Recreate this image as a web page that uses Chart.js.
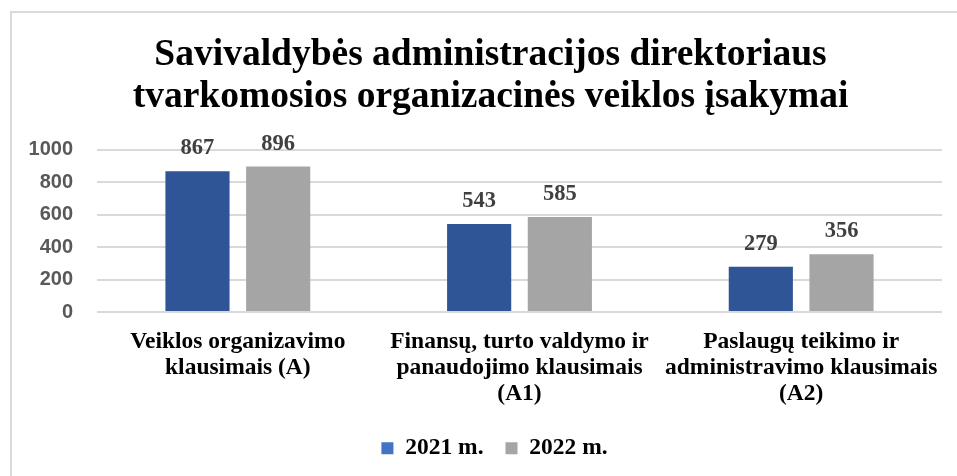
<!DOCTYPE html>
<html>
<head>
<meta charset="utf-8">
<script src="https://cdn.jsdelivr.net/npm/chart.js@4"></script>
<style>
  body { margin: 0; background: #fff; }
  #frame { position: absolute; left: 10px; top: 11px; width: 960px; height: 480px; border: 2px solid #d9d9d9; }
  #box { position: absolute; left: 0; top: 0; width: 957px; height: 476px; }
</style>
</head>
<body>
<div id="frame"></div>
<div id="box"><canvas id="myChart"></canvas></div>
<script>
const categories = [
  ["Veiklos organizavimo", "klausimais (A)"],
  ["Finansų, turto valdymo ir", "panaudojimo klausimais", "(A1)"],
  ["Paslaugų teikimo ir", "administravimo klausimais", "(A2)"]
];
const seriesNames = ["2021 m.", "2022 m."];
const values2021 = [867, 543, 279];
const values2022 = [896, 585, 356];
const yTicks = [0, 200, 400, 600, 800, 1000];

const serif = "'Liberation Serif', 'Times New Roman', serif";
const sans = "'Liberation Sans', Arial, sans-serif";

// number above each bar
const valueLabels = {
  id: "valueLabels",
  afterDatasetsDraw(chart) {
    const ctx = chart.ctx;
    ctx.save();
    ctx.font = "bold 22.5px " + serif;
    ctx.fillStyle = "#404040";
    ctx.textAlign = "center";
    ctx.textBaseline = "alphabetic";
    chart.data.datasets.forEach((ds, i) => {
      chart.getDatasetMeta(i).data.forEach((bar, j) => {
        ctx.fillText(ds.data[j], bar.x, bar.y - 17);
      });
    });
    ctx.restore();
  }
};

const legendColors = ["#4472c4", "#a5a5a5"];

// nudge a layout box sideways when it is drawn
function shiftBox(chart, box, dx) {
  const draw = box.draw.bind(box);
  box.draw = function (area) {
    chart.ctx.save();
    chart.ctx.translate(dx, 0);
    draw(area);
    chart.ctx.restore();
  };
}

function initChart() {
  const ctx = document.getElementById("myChart");
  const chart = new Chart(ctx, {
    type: "bar",
    data: {
      labels: categories,
      datasets: [
        { label: seriesNames[0], data: values2021, backgroundColor: "#2f5597" },
        { label: seriesNames[1], data: values2022, backgroundColor: "#a5a5a5" }
      ]
    },
    options: {
      responsive: true,
      maintainAspectRatio: false,
      animation: false,
      categoryPercentage: 0.573,
      barPercentage: 0.795,
      layout: { padding: { left: 27, right: 15, top: 34, bottom: 6 } },
      plugins: {
        title: {
          display: true,
          text: ["Savivaldybės administracijos direktoriaus", "tvarkomosios organizacinės veiklos įsakymai"],
          font: { family: serif, size: 37.5, weight: "bold", lineHeight: 1.13 },
          color: "#000",
          padding: { top: 0, bottom: 31 }
        },
        legend: {
          position: "bottom",
          labels: {
            font: { family: serif, size: 23.5, weight: "bold" },
            color: "#000",
            boxWidth: 12,
            boxHeight: 12,
            padding: 22,
            generateLabels(chart) {
              return chart.data.datasets.map((ds, i) => ({
                text: ds.label,
                fillStyle: legendColors[i],
                strokeStyle: legendColors[i],
                lineWidth: 0,
                datasetIndex: i
              }));
            }
          }
        },
        tooltip: { enabled: false }
      },
      scales: {
        x: {
          grid: { display: false, drawTicks: false },
          border: { display: false },
          afterFit(axis) { axis.height = 102.5; },
          ticks: {
            font: { family: serif, size: 23.5, weight: "bold", lineHeight: 1.1 },
            color: "#000",
            maxRotation: 0,
            autoSkip: false,
            padding: 17
          }
        },
        y: {
          min: 0,
          max: 1000,
          afterBuildTicks(axis) { axis.ticks = yTicks.map(v => ({ value: v })); },
          afterFit(axis) { axis.width = 70; },
          grid: { color: "#d9d9d9", lineWidth: 2, drawTicks: false },
          border: { display: false },
          ticks: {
            font: { family: sans, size: 20, weight: "bold" },
            color: "#595959",
            padding: 24,
            callback: v => String(v)
          }
        }
      }
    },
    plugins: [valueLabels]
  });
  shiftBox(chart, chart.titleBlock, 6);
  shiftBox(chart, chart.legend, 10);
  chart.draw();
}

window.onload = () => {
  initChart();
};
</script>
</body>
</html>
